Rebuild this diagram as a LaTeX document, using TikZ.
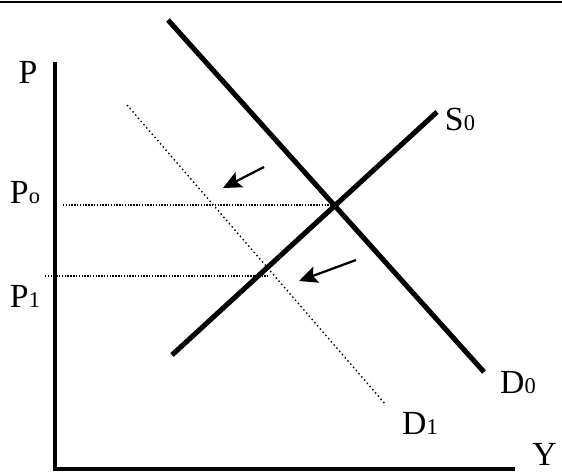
\documentclass[tikz,border=0pt]{standalone}
\usepackage{fontspec}
\setmainfont{Liberation Serif}
\usetikzlibrary{arrows.meta}
\definecolor{inkBlack}{RGB}{0,0,0}
\tikzset{
  curve/.style={line width=3.6pt,inkBlack},
  axisline/.style={line width=3pt,inkBlack},
  guide/.style={line width=1pt,densely dotted,inkBlack},
  shift arrow/.style={line width=1.6pt,-{Stealth[length=13pt,width=12pt,inset=2.5pt]}},
  lbl/.style={font=\fontsize{24}{24}\selectfont,inner sep=0pt}
}
\newcommand{\sub}[1]{{\fontsize{16}{16}\selectfont #1}}

\begin{document}
\begin{tikzpicture}[x=0.025cm,y=-0.025cm]
  \useasboundingbox (0,0) rectangle (562,474);
  \draw[line width=1.5pt] (0,2) -- (562,2);
  % axes
  \coordinate (top) at (55,62);
  \coordinate (origin) at (55,469);
  \coordinate (right) at (515,469);
  \draw[axisline] (top) -- (origin) -- (right);
  \node[lbl] (pLab) at (28,72) {P};
  \node[lbl,anchor=base east] (yLab) at (557,465) {Y};
  % curves
  \coordinate (d0a) at (168,20);
  \coordinate (d0b) at (484,372);
  \coordinate (s0a) at (172,355);
  \coordinate (s0b) at (437,112);
  \coordinate (d1a) at (127,105);
  \coordinate (d1b) at (386,405);
  \draw[curve] (d0a) -- (d0b);
  \draw[curve] (s0a) -- (s0b);
  \draw[line width=1pt,dotted] (d1a) -- (d1b);
  \node[lbl] (s0Lab) at (460,119) {S\sub{0}};
  \node[lbl] (d0Lab) at (518,383) {D\sub{0}};
  \node[lbl] (d1Lab) at (420,423) {D\sub{1}};
  % price levels
  \coordinate (p0a) at (63,205);
  \coordinate (p0b) at (335,205);
  \coordinate (p1a) at (45,276);
  \coordinate (p1b) at (268,276);
  \draw[guide] (p0a) -- (p0b);
  \draw[guide] (p1a) -- (p1b);
  \node[lbl] (p0Lab) at (25,193) {P\sub{o}};
  \node[lbl] (p1Lab) at (25,296) {P\sub{1}};
  % shift of demand
  \coordinate (a1s) at (264,167);
  \coordinate (a1e) at (223,188);
  \coordinate (a2s) at (356,260);
  \coordinate (a2e) at (299,281);
  \draw[shift arrow] (a1s) -- (a1e);
  \draw[shift arrow] (a2s) -- (a2e);
\end{tikzpicture}
\end{document}
